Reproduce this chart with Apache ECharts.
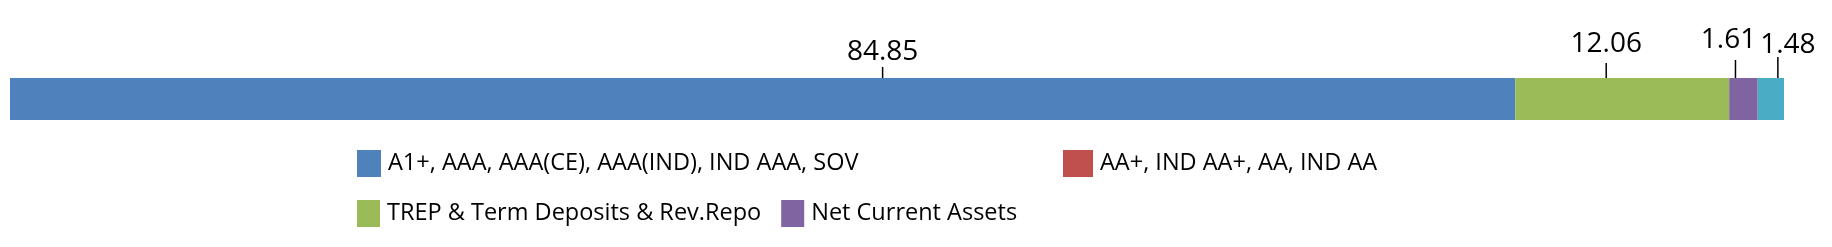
<!DOCTYPE html>
<html>
<head>
<meta charset="utf-8">
<script src="https://cdn.jsdelivr.net/npm/echarts@6/dist/echarts.min.js"></script>
<style>
html,body{margin:0;padding:0;background:#fff;}
#chart{width:1832px;height:247px;}
</style>
</head>
<body>
<div id="chart"></div>
<script>
// ---- data ----
const categories = ['Portfolio'];
const seriesNames = [
  'A1+, AAA, AAA(CE), AAA(IND), IND AAA, SOV',
  'AA+, IND AA+, AA, IND AA',
  'TREP & Term Deposits & Rev.Repo',
  'Net Current Assets',
  'Others'
];
const values = [84.85, 0, 12.06, 1.61, 1.48];
const legendRows = [
  [seriesNames[0]],
  [seriesNames[1]],
  [seriesNames[2], seriesNames[3]]
];

// ---- styles ----
const colors = ['#4F81BD', '#C0504D', '#9BBB59', '#8064A2', '#4BACC6'];
const labelStyle = [
  {offset: 120, tick: 11, lh: 29, pad: [0, 0, 0, 0]},
  null,
  {offset: -16, tick: 15, lh: 37, pad: [0, 0, 0, 0]},
  {offset: -8, tick: 18, lh: 39, pad: [0, 14, 0, 0]},
  {offset: 7, tick: 21, lh: 23, pad: [0, 0, 0, 20]}
];
const legendPos = [
  {left: 357, top: 150, w: 24, h: 27},
  {left: 1063, top: 150, w: 30, h: 27},
  {left: 357, top: 200, w: 23, h: 27}
];
const FONT = '"Open Sans", "Noto Sans", sans-serif';

const chart = echarts.init(document.getElementById('chart'), null, {renderer: 'canvas'});

const series = seriesNames.map((name, i) => {
  const ls = labelStyle[i];
  return {
    name: name,
    type: 'bar',
    stack: 'total',
    barWidth: 42,
    data: [values[i]],
    itemStyle: {color: colors[i]},
    emphasis: {disabled: true},
    label: ls ? {
      show: true,
      position: 'top',
      distance: 0,
      offset: [ls.offset, 0],
      formatter: p => '{v|' + p.value.toFixed(2) + '}\n{t|}',
      rich: {
        v: {fontFamily: FONT, fontSize: 28, color: '#000', lineHeight: ls.lh, padding: ls.pad, align: 'center'},
        t: {width: 1.5, height: ls.tick, backgroundColor: '#000', align: 'center'}
      }
    } : {show: false}
  };
});

const legends = legendRows.map((names, i) => ({
  data: names,
  left: legendPos[i].left,
  top: legendPos[i].top,
  padding: 0,
  itemGap: 20,
  itemWidth: legendPos[i].w,
  itemHeight: legendPos[i].h,
  icon: 'rect',
  selectedMode: false,
  textStyle: {fontFamily: FONT, fontSize: 23.5, color: '#000', padding: [0, 0, 0, 2]}
}));

chart.setOption({
  animation: false,
  backgroundColor: '#fff',
  grid: {left: 10, top: 78, width: 1774, height: 42},
  xAxis: {type: 'value', min: 0, max: 100, show: false},
  yAxis: {type: 'category', data: categories, show: false},
  legend: legends,
  series: series
});
</script>
</body>
</html>
